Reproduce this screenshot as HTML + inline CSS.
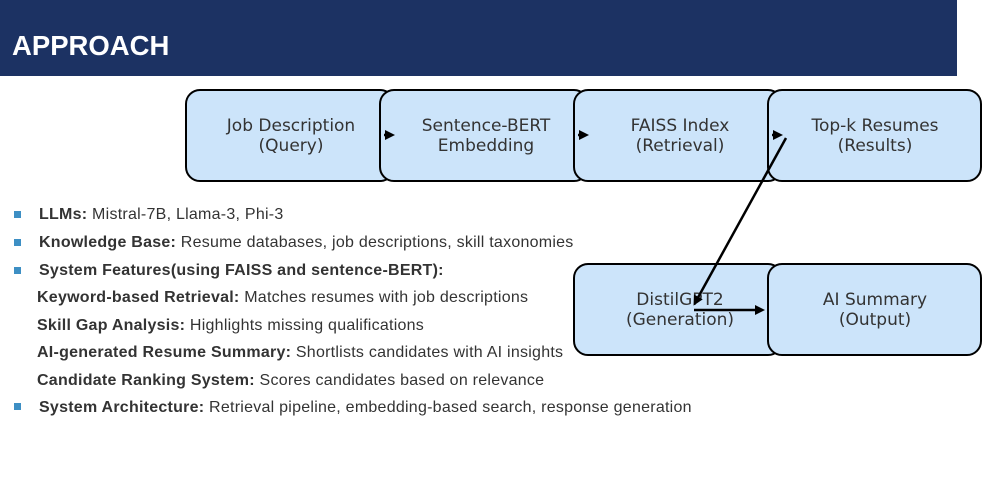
<!DOCTYPE html>
<html><head><style>
body{margin:0;width:993px;height:477px;background:#fff;overflow:hidden;position:relative;font-family:"Liberation Sans",sans-serif}
.hdr{position:absolute;left:0;top:0;width:957px;height:76px;background:#1c3263}
.hdr span{position:absolute;left:12px;top:30px;color:#fff;font-weight:bold;font-size:27.5px}
.l{position:absolute;font-size:16px;letter-spacing:0.25px;color:#333;white-space:nowrap}
.l b{color:#333}
.sq{position:absolute;width:7px;height:7px;background:#3d8fc4}
</style></head><body>
<div class="hdr"><span>APPROACH</span></div>
<svg width="993" height="477" style="position:absolute;left:0;top:0" font-family="DejaVu Sans, sans-serif" font-size="17" fill="#333">
<defs><marker id="a" markerWidth="10" markerHeight="10" refX="7" refY="5" orient="auto" markerUnits="userSpaceOnUse"><path d="M0,0 L10,5 L0,10z" fill="#000"/></marker></defs>
<g fill="#cce4fa" stroke="#000" stroke-width="2">
<rect x="186" y="90" width="208" height="91" rx="14"/>
<rect x="380" y="90" width="208" height="91" rx="14"/>
<rect x="574" y="90" width="208" height="91" rx="14"/>
<rect x="768" y="90" width="213" height="91" rx="14"/>
<rect x="574" y="264" width="208" height="91" rx="14"/>
<rect x="768" y="264" width="213" height="91" rx="14"/>
</g>
<g text-anchor="middle">
<text x="291" y="131">Job Description</text><text x="291" y="151">(Query)</text>
<text x="486" y="131">Sentence-BERT</text><text x="486" y="151">Embedding</text>
<text x="680" y="131">FAISS Index</text><text x="680" y="151">(Retrieval)</text>
<text x="875" y="131">Top-k Resumes</text><text x="875" y="151">(Results)</text>
<text x="680" y="305">DistilGPT2</text><text x="680" y="325">(Generation)</text>
<text x="875" y="305">AI Summary</text><text x="875" y="325">(Output)</text>
</g>
<g stroke="#000" stroke-width="2.5">
<line x1="384" y1="135" x2="392" y2="135" marker-end="url(#a)"/>
<line x1="578" y1="135" x2="586" y2="135" marker-end="url(#a)"/>
<line x1="772" y1="135" x2="780" y2="135" marker-end="url(#a)"/>
<line x1="786" y1="138" x2="695" y2="303" marker-end="url(#a)"/>
<line x1="694" y1="310" x2="762" y2="310" marker-end="url(#a)"/>
</g>
</svg>
<div class="sq" style="left:14px;top:211px"></div>
<div class="sq" style="left:14px;top:239px"></div>
<div class="sq" style="left:14px;top:267px"></div>
<div class="sq" style="left:14px;top:403px"></div>
<div class="l" style="left:39px;top:206px"><b>LLMs:</b> Mistral-7B, Llama-3, Phi-3</div>
<div class="l" style="left:39px;top:234px"><b>Knowledge Base:</b> Resume databases, job descriptions, skill taxonomies</div>
<div class="l" style="left:39px;top:262px"><b>System Features(using FAISS and sentence-BERT):</b></div>
<div class="l" style="left:37px;top:289px"><b>Keyword-based Retrieval:</b> Matches resumes with job descriptions</div>
<div class="l" style="left:37px;top:317px"><b>Skill Gap Analysis:</b> Highlights missing qualifications</div>
<div class="l" style="left:37px;top:344px"><b>AI-generated Resume Summary:</b> Shortlists candidates with AI insights</div>
<div class="l" style="left:37px;top:372px"><b>Candidate Ranking System:</b> Scores candidates based on relevance</div>
<div class="l" style="left:39px;top:399px"><b>System Architecture:</b> Retrieval pipeline, embedding-based search, response generation</div>
</body></html>
